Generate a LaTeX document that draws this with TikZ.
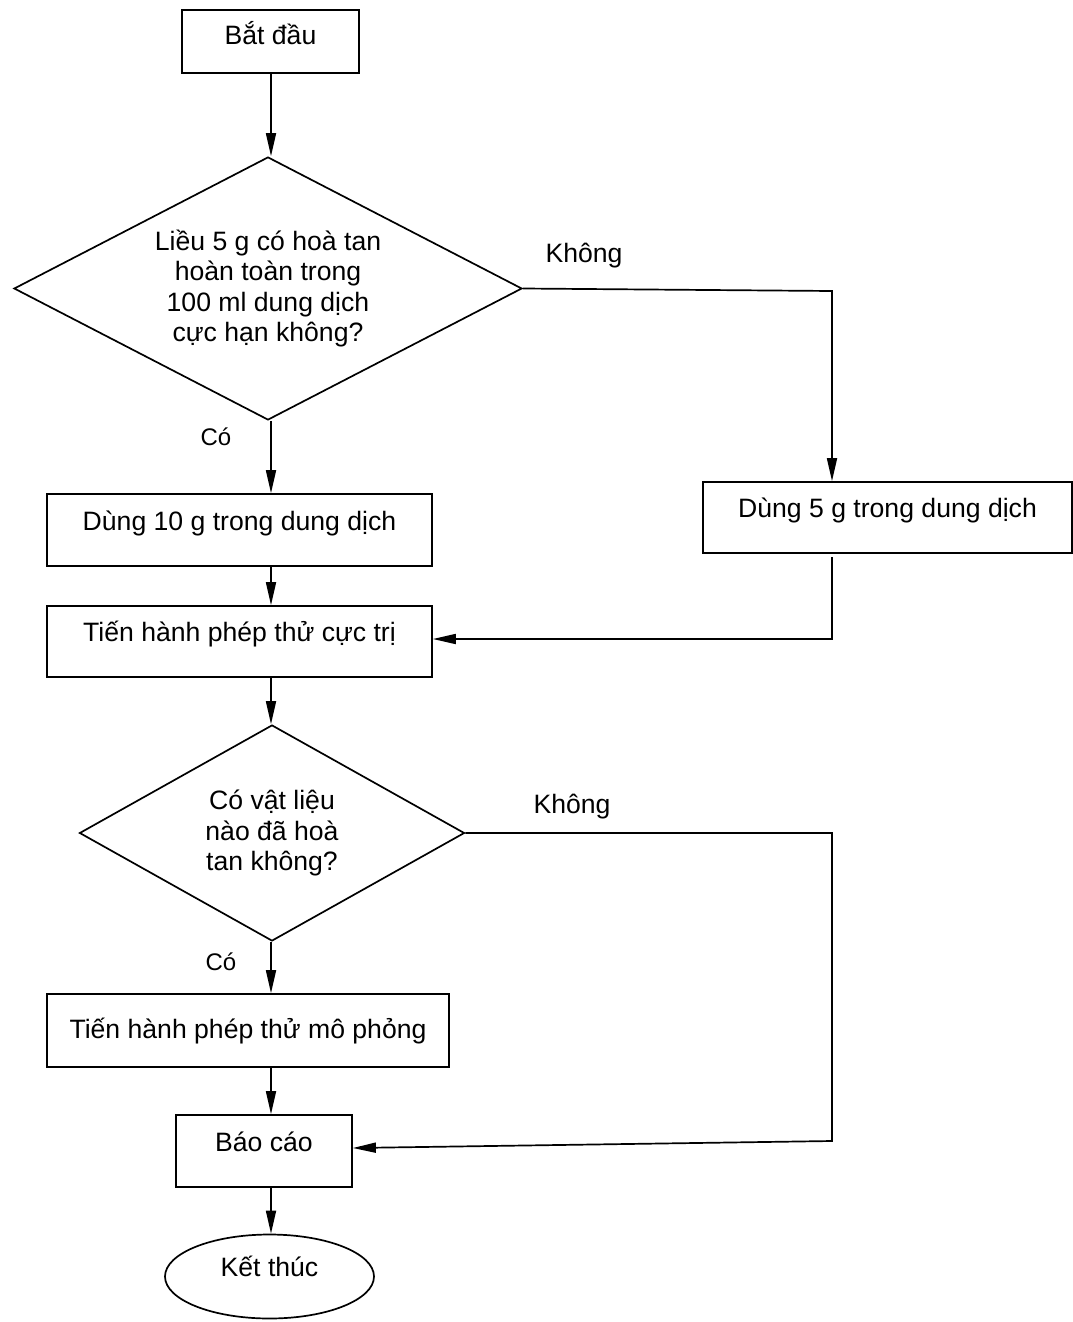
\documentclass[tikz,border=0pt]{standalone}
\usepackage{fontspec}
\setmainfont{Liberation Sans}
\usetikzlibrary{shapes.geometric,arrows.meta}
\begin{document}
\begin{tikzpicture}[x=1pt,y=-1pt,
  every node/.style={font=\fontsize{26.6}{30.5}\selectfont},
  arr/.style={line width=1.7pt,-{Triangle[length=23pt,width=10pt]}},
  box/.style={draw,line width=1.7pt,rectangle,inner sep=0pt,text height=10pt,text depth=10pt},
  dia/.style={draw,line width=1.7pt,diamond,inner sep=0pt,align=center},
  lbl/.style={inner sep=0pt},
  lblsmall/.style={inner sep=0pt,font=\fontsize{24}{28}\selectfont}]
\useasboundingbox (0,0) rectangle (1073,1322);

\node[draw,line width=1.7pt,rectangle,inner sep=0pt,text height=17pt,text depth=10pt,
      minimum width=177pt,minimum height=63pt] (st) at (270.5,41.5) {Bắt đầu};
\node[dia,aspect=1.93,minimum width=508pt,minimum height=263pt] (d1) at (268,288.5)
  {Liều 5 g có hoà tan\\hoàn toàn trong\\100 ml dung dịch\\cực hạn không?};
\node[box,minimum width=385pt,minimum height=72pt] (d10) at (239.5,530) {Dùng 10 g trong dung dịch};
\node[box,minimum width=369pt,minimum height=71pt] (d5) at (887.5,517.5) {Dùng 5 g trong dung dịch};
\node[box,minimum width=385pt,minimum height=71pt] (ct) at (239.5,641.5) {Tiến hành phép thử cực trị};
\node[dia,aspect=1.78,minimum width=385pt,minimum height=216pt] (d2) at (272,833)
  {Có vật liệu\\nào đã hoà\\tan không?};
\node[draw,line width=1.7pt,rectangle,inner sep=0pt,text height=20pt,text depth=5pt,
      minimum width=402pt,minimum height=73pt] (mp) at (248,1030.5) {Tiến hành phép thử mô phỏng};
\node[box,minimum width=176pt,minimum height=72pt] (bc) at (264,1151) {Báo cáo};
\node[draw,line width=1.7pt,ellipse,inner sep=0pt,text height=10pt,text depth=10pt,
      minimum width=209pt,minimum height=84pt] (kt) at (269.5,1276.5) {Kết thúc};

\node[lbl] (k1) at (584,256) {Không};
\node[lbl] (k2) at (572,807) {Không};
\node[lblsmall] (c1l) at (216,437) {Có};
\node[lblsmall] (c2l) at (221,962) {Có};

\coordinate (mx) at (271,0);
\coordinate (c1) at (832,291);
\coordinate (k2a) at (832,557);
\coordinate (k2b) at (832,639);
\coordinate (c3) at (832,833);
\coordinate (c4) at (832,1141);

\draw[arr] (mx |- st.south) -- (mx |- d1.north);
\draw[arr] (mx |- d1.south) -- (mx |- d10.north);
\draw[arr] (mx |- d10.south) -- (mx |- ct.north);
\draw[arr] (mx |- ct.south) -- (mx |- d2.north);
\draw[arr] (mx |- d2.south) -- (mx |- mp.north);
\draw[arr] (mx |- mp.south) -- (mx |- bc.north);
\draw[arr] (mx |- bc.south) -- (mx |- kt.north);

\draw[arr] (d1.east) -- (c1) -- (c1 |- d5.north);
\draw[arr] (k2a) -- (k2b) -- (k2b -| ct.east);
\draw[arr] (d2.east) -- (c3) -- (c4) -- ([yshift=3pt]bc.east);
\end{tikzpicture}
\end{document}
